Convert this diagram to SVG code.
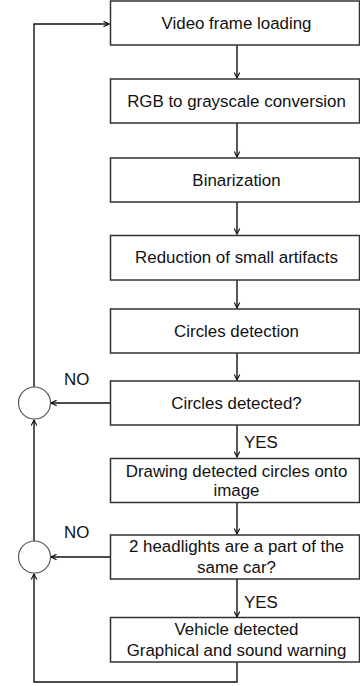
<svg xmlns="http://www.w3.org/2000/svg" width="360" height="686" viewBox="0 0 360 686">
<style>
.box{fill:#fff;stroke:#333;stroke-width:1.5}
.t{font-family:"Liberation Sans",Arial,sans-serif;font-size:16.9px;fill:#111;text-anchor:middle}
.l{font-family:"Liberation Sans",Arial,sans-serif;font-size:16.9px;fill:#111}
.c{fill:#fff;stroke:#555;stroke-width:1.2}
.e{fill:none;stroke:#111;stroke-width:1.4;marker-end:url(#a)}
</style>
<defs>
<marker id="a" viewBox="0 0 10 10" refX="9" refY="5" markerWidth="7" markerHeight="7" markerUnits="userSpaceOnUse" orient="auto">
<path d="M1,1 L9,5 L1,9" fill="none" stroke="#111" stroke-width="1.6"/>
</marker>
</defs>
<g id="connectors">
<path class="e" d="M237,45 V78"/>
<path class="e" d="M237,123 V157"/>
<path class="e" d="M237,202 V234"/>
<path class="e" d="M237,280 V308"/>
<path class="e" d="M237,353 V380"/>
<path class="e" d="M237,425 V457"/>
<path class="e" d="M237,502 V534"/>
<path class="e" d="M237,579 V617"/>
<path class="e" d="M110,403 H51"/>
<path class="e" d="M110,557 H51"/>
<path class="e" d="M34,387 V24 H109"/>
<path class="e" d="M34,541 V420"/>
<path class="e" d="M237,662 V682 H34 V574"/>
</g>
<g id="n1"><rect class="box" x="110.5" y="1" width="249" height="44"/><text class="t" x="236.5" y="29">Video frame loading</text></g>
<g id="n2"><rect class="box" x="110.5" y="79" width="249" height="44"/><text class="t" x="236.5" y="107">RGB to grayscale conversion</text></g>
<g id="n3"><rect class="box" x="110.5" y="158" width="249" height="44"/><text class="t" x="236.5" y="186">Binarization</text></g>
<g id="n4"><rect class="box" x="110.5" y="235.5" width="249" height="44.5"/><text class="t" x="236.5" y="263">Reduction of small artifacts</text></g>
<g id="n5"><rect class="box" x="110.5" y="309" width="249" height="44"/><text class="t" x="236.5" y="337">Circles detection</text></g>
<g id="n6"><rect class="box" x="110.5" y="381" width="249" height="44"/><text class="t" x="236.5" y="409">Circles detected?</text></g>
<g id="n7"><rect class="box" x="110.5" y="458.5" width="249" height="44"/><text class="t" x="236.5" y="477">Drawing detected circles onto</text><text class="t" x="236.5" y="496">image</text></g>
<g id="n8"><rect class="box" x="110.5" y="535" width="249" height="44"/><text class="t" x="236.5" y="552">2 headlights are a part of the</text><text class="t" x="236.5" y="573">same car?</text></g>
<g id="n9"><rect class="box" x="110.5" y="617.5" width="249" height="44.5"/><text class="t" x="236.5" y="635">Vehicle detected</text><text class="t" x="236.5" y="656">Graphical and sound warning</text></g>
<g id="j1"><circle class="c" cx="34.5" cy="403" r="16"/></g>
<g id="j2"><circle class="c" cx="34.5" cy="557" r="16"/></g>
<g id="labels">
<text class="l" x="64" y="385">NO</text>
<text class="l" x="64" y="538">NO</text>
<text class="l" x="244" y="448">YES</text>
<text class="l" x="244" y="608">YES</text>
</g>
</svg>
